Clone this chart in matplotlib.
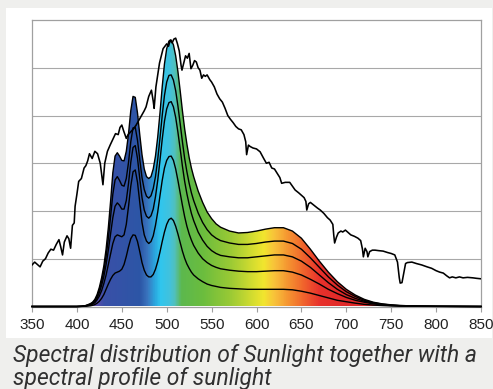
import numpy as np
import matplotlib
matplotlib.use("Agg")
import matplotlib.pyplot as plt
from matplotlib.colors import LinearSegmentedColormap
from matplotlib.patches import Polygon, Rectangle

# sunlight spectrum (wavelength nm, relative intensity)
sun_nm = [350, 353, 356, 359, 362, 365, 368, 371, 374, 377, 380, 382, 384, 386, 389, 391, 393,
          395, 397, 398, 400, 402, 405, 408, 410, 412, 414, 417, 420, 423, 426, 429, 431, 434,
          437, 440, 443, 446, 448, 450, 452, 455, 457, 460, 463, 466, 469, 472, 475, 477, 480,
          483, 485, 486, 488, 490, 492, 494, 496, 498, 500, 502, 504, 506, 508, 510, 512, 514,
          516, 517, 519, 521, 523, 525, 527, 529, 531, 533, 535, 537, 539, 541, 543, 545, 548,
          550, 553, 556, 559, 562, 565, 568, 571, 574, 577, 580, 583, 586, 588, 589, 591, 593,
          596, 600, 604, 608, 611, 614, 617, 620, 623, 626, 628, 632, 637, 640, 643, 647, 650,
          653, 655, 656, 658, 660, 664, 668, 671, 675, 679, 682, 685, 686, 687, 689, 691, 694,
          696, 699, 702, 705, 709, 713, 716, 718, 719, 721, 723, 724, 726, 729, 732, 736, 741,
          746, 750, 754, 757, 759, 760, 762, 764, 766, 768, 773, 778, 784, 790, 795, 800, 804,
          808, 812, 815, 818, 822, 826, 830, 835, 841, 845, 850]
sun_val = [0.87, 0.93, 0.88, 0.83, 0.95, 1.00, 1.12, 1.20, 1.18, 1.30, 1.40, 1.25, 1.08, 1.35,
           1.48, 1.42, 1.22, 1.70, 1.75, 2.10, 2.35, 2.62, 2.68, 2.90, 2.95, 3.05, 3.20, 3.10,
           3.25, 3.20, 3.00, 2.55, 3.00, 3.25, 3.38, 3.50, 3.62, 3.60, 3.75, 3.80, 3.68, 3.52,
           3.60, 3.66, 3.72, 3.80, 3.90, 4.00, 4.10, 4.18, 4.40, 4.53, 4.30, 4.15, 4.60, 4.85,
           5.10, 5.25, 5.40, 5.45, 5.50, 5.45, 5.58, 5.52, 5.60, 5.62, 5.50, 5.35, 5.05, 4.95,
           5.10, 5.25, 5.20, 5.30, 4.98, 5.05, 5.15, 5.12, 5.00, 4.95, 4.78, 4.85, 4.82, 4.85,
           4.75, 4.70, 4.60, 4.45, 4.35, 4.28, 4.15, 4.00, 3.92, 3.85, 3.77, 3.72, 3.70, 3.60,
           3.45, 3.18, 3.38, 3.35, 3.32, 3.30, 3.24, 3.10, 3.00, 3.02, 2.90, 2.88, 2.79, 2.70,
           2.58, 2.60, 2.60, 2.52, 2.44, 2.38, 2.33, 2.28, 2.20, 2.02, 2.15, 2.18, 2.12, 2.06,
           2.02, 1.95, 1.86, 1.81, 1.72, 1.50, 1.33, 1.45, 1.54, 1.58, 1.56, 1.60, 1.55, 1.50,
           1.47, 1.43, 1.38, 1.20, 1.04, 1.22, 1.15, 1.04, 1.15, 1.18, 1.18, 1.17, 1.16, 1.13,
           1.11, 1.08, 0.93, 0.60, 0.49, 0.50, 0.70, 0.90, 0.92, 0.93, 0.90, 0.87, 0.83, 0.80,
           0.75, 0.72, 0.70, 0.64, 0.60, 0.62, 0.60, 0.62, 0.60, 0.61, 0.60, 0.59, 0.58]

# LED spectra at five mixing levels, sampled on a shared wavelength grid
led_nm = [350, 400, 405, 410,
          415, 417.5, 420, 422.5, 425, 427.5, 430, 432.5, 435, 437.5,
          440, 442.5, 445, 447.5, 450, 452.5, 455, 457.5, 460, 462.5,
          465, 467.5, 470, 472.5, 475, 477.5, 480, 482.5, 485, 487.5,
          490, 492.5, 495, 497.5, 500, 502.5, 505, 507.5, 510, 512.5,
          515, 517.5, 520, 522.5, 525, 527.5, 530,
          535, 540, 545, 550, 555, 560,
          570, 580, 590, 600, 610, 620, 630, 640, 650, 660,
          670, 680, 690, 700, 710, 720, 730, 740, 750, 760,
          780, 800, 850]
led_1 = [0, 0, 0.005, 0.02,
         0.06, 0.09, 0.15, 0.25, 0.40, 0.60, 0.85, 1.20, 1.65, 2.20,
         2.80, 3.15, 3.22, 3.15, 3.06, 3.05, 3.25, 3.62, 4.10, 4.40,
         4.38, 4.05, 3.60, 3.18, 2.88, 2.72, 2.68, 2.72, 2.88, 3.15,
         3.55, 4.05, 4.60, 5.08, 5.40, 5.56, 5.58, 5.48, 5.25, 4.92,
         4.52, 4.10, 3.72, 3.40, 3.12, 2.90, 2.72,
         2.42, 2.18, 1.98, 1.84, 1.73, 1.66,
         1.58, 1.54, 1.55, 1.58, 1.62, 1.65, 1.65, 1.58, 1.43, 1.20,
         0.95, 0.72, 0.52, 0.36, 0.24, 0.15, 0.09, 0.055, 0.035, 0.02,
         0.01, 0.005, 0]
led_2 = [0, 0, 0.005, 0.02,
         0.05, 0.08, 0.13, 0.22, 0.35, 0.52, 0.75, 1.05, 1.42, 1.88,
         2.35, 2.65, 2.72, 2.64, 2.54, 2.52, 2.68, 3.02, 3.45, 3.74,
         3.75, 3.48, 3.08, 2.70, 2.45, 2.31, 2.27, 2.32, 2.47, 2.72,
         3.08, 3.52, 4.00, 4.42, 4.70, 4.84, 4.85, 4.74, 4.52, 4.20,
         3.83, 3.45, 3.10, 2.82, 2.58, 2.38, 2.22,
         1.96, 1.76, 1.61, 1.50, 1.43, 1.38,
         1.33, 1.30, 1.30, 1.32, 1.35, 1.37, 1.37, 1.32, 1.20, 1.02,
         0.82, 0.62, 0.45, 0.31, 0.21, 0.13, 0.08, 0.05, 0.03, 0.02,
         0.01, 0.005, 0]
led_3 = [0, 0, 0.004, 0.015,
         0.04, 0.06, 0.10, 0.18, 0.29, 0.44, 0.63, 0.88, 1.18, 1.52,
         1.86, 2.10, 2.17, 2.12, 2.04, 2.04, 2.22, 2.58, 3.02, 3.33,
         3.37, 3.10, 2.68, 2.28, 2.02, 1.89, 1.85, 1.90, 2.04, 2.30,
         2.64, 3.06, 3.50, 3.88, 4.14, 4.27, 4.29, 4.18, 3.96, 3.65,
         3.30, 2.94, 2.62, 2.36, 2.14, 1.95, 1.80,
         1.56, 1.39, 1.26, 1.17, 1.11, 1.07,
         1.04, 1.02, 1.02, 1.04, 1.06, 1.08, 1.08, 1.04, 0.95, 0.82,
         0.66, 0.50, 0.36, 0.25, 0.17, 0.11, 0.07, 0.04, 0.025, 0.015,
         0.008, 0.004, 0]
led_4 = [0, 0, 0.003, 0.01,
         0.03, 0.05, 0.08, 0.14, 0.22, 0.33, 0.48, 0.66, 0.88, 1.10,
         1.32, 1.46, 1.50, 1.48, 1.46, 1.50, 1.72, 2.10, 2.52, 2.82,
         2.86, 2.60, 2.18, 1.76, 1.50, 1.37, 1.32, 1.36, 1.48, 1.70,
         1.98, 2.32, 2.64, 2.90, 3.06, 3.14, 3.15, 3.06, 2.88, 2.64,
         2.38, 2.12, 1.88, 1.68, 1.52, 1.39, 1.28,
         1.12, 1.00, 0.92, 0.86, 0.82, 0.79,
         0.76, 0.74, 0.73, 0.73, 0.74, 0.75, 0.75, 0.72, 0.66, 0.57,
         0.47, 0.36, 0.27, 0.19, 0.13, 0.09, 0.055, 0.035, 0.02, 0.012,
         0.006, 0.003, 0]
led_5 = [0, 0, 0.002, 0.005,
         0.015, 0.025, 0.04, 0.07, 0.11, 0.17, 0.25, 0.36, 0.47, 0.57,
         0.65, 0.70, 0.72, 0.74, 0.78, 0.88, 1.05, 1.25, 1.42, 1.50,
         1.49, 1.36, 1.15, 0.92, 0.76, 0.66, 0.62, 0.62, 0.67, 0.78,
         0.94, 1.14, 1.36, 1.56, 1.72, 1.82, 1.85, 1.80, 1.68, 1.52,
         1.34, 1.16, 1.01, 0.89, 0.80, 0.72, 0.66,
         0.58, 0.52, 0.47, 0.44, 0.42, 0.40,
         0.38, 0.37, 0.36, 0.36, 0.36, 0.36, 0.36, 0.35, 0.32, 0.28,
         0.23, 0.18, 0.13, 0.10, 0.07, 0.045, 0.03, 0.02, 0.012, 0.008,
         0.004, 0.002, 0]
led_curves = [led_1, led_2, led_3, led_4, led_5]

# colour stops used to paint the area under the strongest LED curve
spec_nm = [350, 415, 430, 470, 478, 486, 493, 503, 509, 516, 540, 570, 595, 608, 620, 637,
           654, 670, 700, 850]
spec_col = ["#6a4aa8", "#6a4aa8", "#3a50a8", "#2c56a6", "#3a74be", "#2aa6de", "#30c6ee",
            "#42c2dc", "#52c0b8", "#5cb84e", "#6bbd3e", "#98c935", "#d2dc30", "#f2e62e",
            "#f8c23a", "#f59030", "#f0602c", "#e8322c", "#e02828", "#e02828"]

x_ticks = [350, 400, 450, 500, 550, 600, 650, 700, 750, 800, 850]
caption = ["Spectral distribution of Sunlight together with a",
           "spectral profile of sunlight"]

W, H = 493, 389
fig = plt.figure(figsize=(W / 100, H / 100), dpi=100, facecolor="#efefed")
fig.patches.append(Rectangle((6 / W, 1 - 338 / H), 486 / W, 330 / H, transform=fig.transFigure,
                             facecolor="white", edgecolor="none", zorder=-1))

ax = fig.add_axes([32 / W, 1 - 306.5 / H, 449 / W, 286.5 / H])
ax.set_facecolor("white")
ax.set_xlim(350, 850)
ax.set_ylim(0, 6)

for v in range(1, 6):
    ax.axhline(v, color="#a8a8a8", lw=0.8, zorder=1)

stops = [(n - 350) / 500 for n in spec_nm]
cmap = LinearSegmentedColormap.from_list("spectrum", list(zip(stops, spec_col)))
grad = np.linspace(0, 1, 1000).reshape(1, -1)
im = ax.imshow(grad, cmap=cmap, extent=[350, 850, 0, 6], aspect="auto", origin="lower",
               interpolation="bilinear", zorder=2)
outline = Polygon(np.column_stack([led_nm + [850, 350], led_1 + [0, 0]]), closed=True,
                  facecolor="none", edgecolor="none")
ax.add_patch(outline)
im.set_clip_path(outline)

for curve in led_curves:
    ax.plot(led_nm, curve, color="black", lw=1.0, zorder=3, clip_on=False,
            solid_joinstyle="round")

ax.plot(sun_nm, sun_val, color="black", lw=1.15, zorder=4)

for side in ["left", "right", "top", "bottom"]:
    ax.spines[side].set_color("#a0a0a0")
    ax.spines[side].set_linewidth(0.9)
ax.set_yticks([])
ax.set_xticks(x_ticks)
ax.tick_params(axis="x", direction="out", length=3.5, width=0.8, color="#a0a0a0", pad=5,
               labelsize=11, labelcolor="#222222")
for lbl in ax.get_xticklabels():
    lbl.set_fontfamily("Liberation Sans")

for i, line in enumerate(caption):
    fig.text(13 / W, 1 - (362 + 23 * i) / H, line, ha="left", va="baseline", fontsize=16.5,
             style="italic", color="#303030", family=["Roboto", "DejaVu Sans"])

fig.savefig("out.png", dpi=100, facecolor=fig.get_facecolor())
